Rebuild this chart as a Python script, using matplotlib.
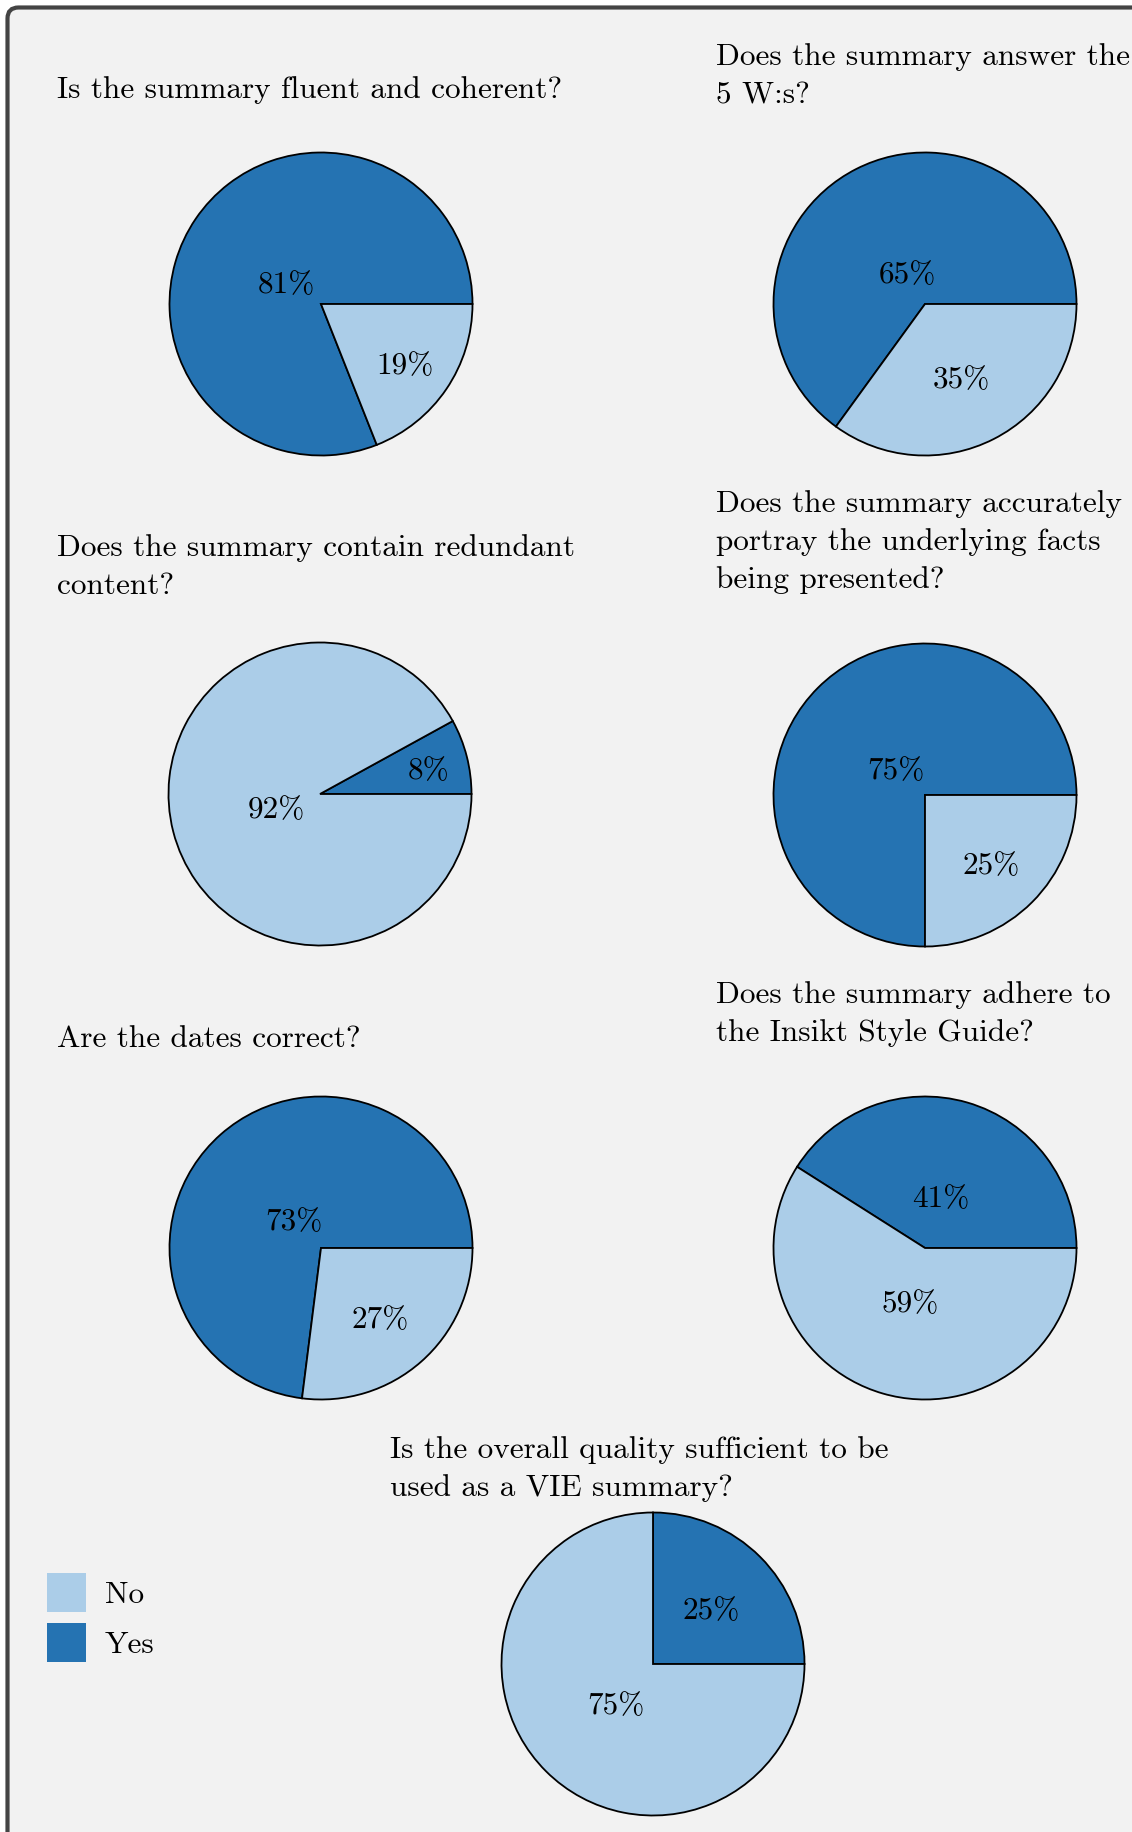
import matplotlib
matplotlib.use("Agg")
import matplotlib.pyplot as plt
import numpy as np
from matplotlib.patches import FancyBboxPatch, Patch
from matplotlib.transforms import IdentityTransform, offset_copy

QUESTIONS = [
    "Is the summary fluent and coherent?",
    "Does the summary answer the\n5 W:s?",
    "Does the summary contain redundant\ncontent?",
    "Does the summary accurately\nportray the underlying facts\nbeing presented?",
    "Are the dates correct?",
    "Does the summary adhere to\nthe Insikt Style Guide?",
    "Is the overall quality sufficient to be\nused as a VIE summary?",
]
YES = [81, 65, 8, 75, 73, 41, 25]
NO = [19, 35, 92, 25, 27, 59, 75]

COLOR_YES = "#2573b2"
COLOR_NO = "#abcde8"
FONT = ["cmr10", "DejaVu Serif"]
FS = 22.5

# layout in pixels (origin top-left)
W, H = 1132, 1832
CENTERS = [(321, 304), (925, 304), (320, 794), (925, 795),
           (321, 1248), (925, 1248), (653, 1664)]
RADIUS = 151.5
# left edge and baseline of the last title line
TITLE_POS = [(57, 98), (716, 103), (57, 594), (716, 588),
             (57, 1047), (716, 1041), (390, 1496)]
# label distance (fraction of radius) for yes / no wedge
PCT_DIST = [(0.28, 0.67), (0.25, 0.53), (0.74, 0.30), (0.27, 0.62),
            (0.27, 0.59), (0.37, 0.35), (0.54, 0.35)]

plt.rcParams["axes.formatter.use_mathtext"] = True

fig = plt.figure(figsize=(W / 100, H / 100), dpi=100)
fig.patch.set_facecolor("white")

# rounded panel, cut off on the right and at the bottom
panel = FancyBboxPatch((7.5, -60), W + 60, H - 7.5 + 60,
                       boxstyle="round,pad=0,rounding_size=11",
                       transform=IdentityTransform(),
                       facecolor="#f2f2f2", edgecolor="#444444",
                       linewidth=3.0, zorder=0)
fig.add_artist(panel)

half = RADIUS * 1.06
for i, q in enumerate(QUESTIONS):
    cx, cy = CENTERS[i]
    ax = fig.add_axes([(cx - half) / W, 1 - (cy + half) / H, 2 * half / W, 2 * half / H])
    wedges, _ = ax.pie([YES[i], NO[i]], colors=[COLOR_YES, COLOR_NO],
                       startangle=0, counterclock=True, radius=1,
                       wedgeprops=dict(edgecolor="black", linewidth=1.3))
    lim = half / RADIUS
    ax.set_xlim(-lim, lim)
    ax.set_ylim(-lim, lim)
    ax.set_aspect("equal")
    ax.axis("off")
    label_tr = offset_copy(ax.transData, fig=fig, x=0, y=-5, units="dots")
    for w, val, d in zip(wedges, [YES[i], NO[i]], PCT_DIST[i]):
        mid = np.deg2rad((w.theta1 + w.theta2) / 2)
        ax.text(d * np.cos(mid), d * np.sin(mid), f"{val}%", transform=label_tr,
                ha="center", va="center", fontsize=FS, family=FONT)

    tx, ty = TITLE_POS[i]
    fig.text(tx / W, 1 - ty / H, q, ha="left", va="baseline",
             fontsize=FS, family=FONT, linespacing=1.47)

handles = [Patch(facecolor=COLOR_NO, edgecolor="none", label="No"),
           Patch(facecolor=COLOR_YES, edgecolor="none", label="Yes")]
fig.legend(handles=handles, loc="upper left",
           bbox_to_anchor=(47 / W, 1 - 1573 / H),
           frameon=False, borderpad=0, borderaxespad=0,
           handlelength=1.25, handleheight=1.55, handletextpad=0.6,
           labelspacing=0.35, prop=dict(family=FONT, size=FS))

fig.savefig("out.png", dpi=100)
